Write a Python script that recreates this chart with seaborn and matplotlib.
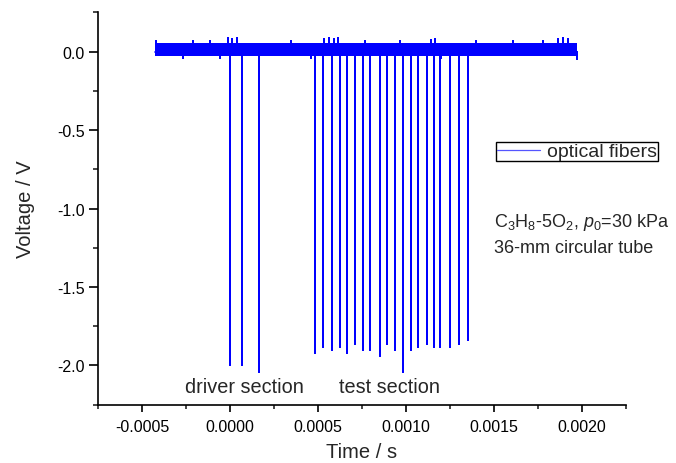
import numpy as np
import pandas as pd
import matplotlib
matplotlib.use("Agg")
import matplotlib.pyplot as plt
import seaborn as sns

# ---- data ----
# deep spikes (optical fiber signals)
spike_t = [0.0, 0.00007, 0.000166,
           0.000485, 0.00053, 0.000581, 0.000625, 0.000666, 0.000711, 0.000753,
           0.000793, 0.00085, 0.000894, 0.00094, 0.000983, 0.00103, 0.00107,
           0.00112, 0.00116, 0.001195, 0.00125, 0.0013, 0.001354]
spike_v = [-2.00, -2.00, -2.04,
           -1.92, -1.88, -1.90, -1.88, -1.92, -1.86, -1.90,
           -1.90, -1.94, -1.86, -1.90, -2.04, -1.90, -1.88,
           -1.86, -1.88, -1.88, -1.88, -1.86, -1.84]
# small noise peaks above the baseline band
peak_t = [-0.00042, -0.00021, -0.000114, -0.00001, 0.00001, 0.000039, 0.000345,
          0.000536, 0.000565, 0.000593, 0.000612, 0.000766, 0.000966, 0.00114,
          0.001167, 0.0014, 0.00161, 0.00178, 0.001866, 0.001894, 0.00192]
peak_v = [0.07, 0.065, 0.065, 0.085, 0.08, 0.085, 0.065,
          0.08, 0.085, 0.08, 0.085, 0.065, 0.07, 0.075,
          0.08, 0.065, 0.065, 0.065, 0.08, 0.085, 0.08]
# small dips below the band
dip_t = [-0.000267, -0.000057, 0.00046, 0.0012, 0.00197]
dip_v = [-0.043, -0.043, -0.04, -0.043, -0.045]
# baseline noise band (record start/end, band envelope)
band_t = [-0.000424, 0.001972]
band_hi = [0.052, 0.052]
band_lo = [-0.026, -0.026]
base_level = 0.0

x_ticks = [-0.0005, 0.0, 0.0005, 0.001, 0.0015, 0.002]
y_ticks = [0.0, -0.5, -1.0, -1.5, -2.0]

# ---- build trace ----
ev_t = np.array(spike_t + peak_t + dip_t)
ev_v = np.array(spike_v + peak_v + dip_v)
order = np.argsort(ev_t)
tt = [band_t[0]]
vv = [base_level]
for i in order:
    tt += [ev_t[i], ev_t[i], ev_t[i]]
    vv += [base_level, ev_v[i], base_level]
tt.append(band_t[1])
vv.append(base_level)
df = pd.DataFrame({"Time": tt, "Voltage": vv})

# ---- style ----
sns.set_style("ticks")
plt.rcParams["font.family"] = ["Liberation Sans", "DejaVu Sans"]
plt.rcParams["mathtext.fontset"] = "custom"
plt.rcParams["mathtext.rm"] = "Liberation Sans"
plt.rcParams["mathtext.it"] = "Liberation Sans:italic"
plt.rcParams["axes.unicode_minus"] = False

fig = plt.figure(figsize=(6.76, 4.64), dpi=100)
ax = fig.add_axes([0.145, 0.1256, 0.781, 0.8457])

blue = "#0000FF"
ax.fill_between(band_t, band_lo, band_hi, color=blue, linewidth=0)
sns.lineplot(data=df, x="Time", y="Voltage", sort=False, estimator=None,
             color=blue, linewidth=1.2, ax=ax, label="optical fibers")

ax.set_xlim(-0.00075, 0.00225)
ax.set_ylim(-2.25, 0.25)
ax.set_xticks(x_ticks)
ax.set_xticklabels([f"{v:.4f}" for v in x_ticks])
ax.set_yticks(y_ticks)
ax.set_yticklabels([f"{v:.1f}" for v in y_ticks])
ax.set_xticks(np.arange(-0.00075, 0.00226, 0.00025), minor=True)
ax.set_yticks(np.arange(-2.25, 0.26, 0.25), minor=True)

for s in ["top", "right"]:
    ax.spines[s].set_visible(False)
for s in ["left", "bottom"]:
    ax.spines[s].set_linewidth(1.2)
    ax.spines[s].set_color("black")

ax.tick_params(axis="x", which="major", length=5, width=1.2, labelsize=11.5, pad=5, colors="black")
ax.tick_params(axis="x", which="minor", length=3, width=1.2)
ax.tick_params(axis="y", which="major", length=6.5, width=1.2, labelsize=11.5, pad=3, colors="black")
ax.tick_params(axis="y", which="minor", length=3.5, width=1.2)

ax.set_xlabel("Time / s", fontsize=14.5, labelpad=6)
ax.set_ylabel("Voltage / V", fontsize=14.5, labelpad=16)

ax.text(0.0000813, -2.172, "driver section", fontsize=14.3, ha="center", va="baseline")
ax.text(0.000905, -2.172, "test section", fontsize=14.3, ha="center", va="baseline")
ax.text(0.0015017, -1.111, "C$_3$H$_8$-5O$_2$, $p_0$=30 kPa", fontsize=13, ha="left", va="baseline")
ax.text(0.0015017, -1.276, "36-mm circular tube", fontsize=13, ha="left", va="baseline")

leg = ax.legend(loc="center left", bbox_to_anchor=(496 / 676, 1 - 152.5 / 464),
                bbox_transform=fig.transFigure, fontsize=14, frameon=True,
                fancybox=False, borderpad=0.05, borderaxespad=0, handlelength=2.2,
                handletextpad=0.35)
leg.get_frame().set_edgecolor("black")
leg.get_frame().set_linewidth(1.0)
leg.get_frame().set_alpha(1)
for h in leg.get_lines():
    h.set_linewidth(0.9)
    h.set_color("#5555FF")

fig.savefig("out.png", dpi=100)
